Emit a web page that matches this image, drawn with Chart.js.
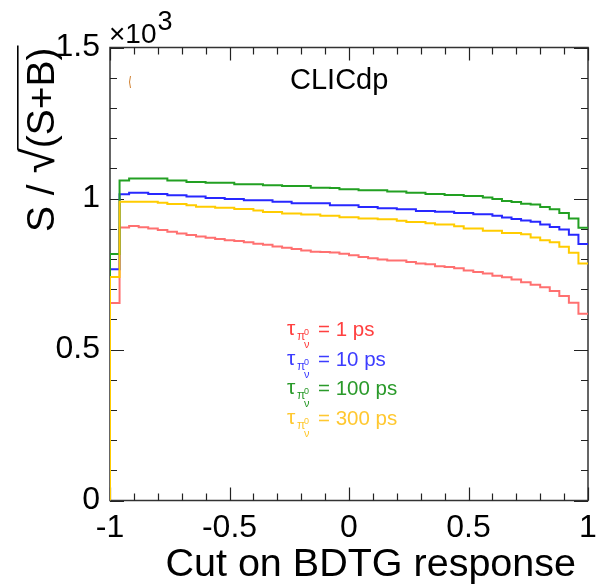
<!DOCTYPE html>
<html><head><meta charset="utf-8">
<script src="https://cdn.jsdelivr.net/npm/chart.js@4.4.1/dist/chart.umd.min.js"></script>
<style>html,body{margin:0;padding:0;background:#fff;}#wrap{width:598px;height:588px;}</style>
</head><body><div id="wrap"><canvas id="c" width="598" height="588"></canvas></div>
<script>
// ---- data ----
const binEdges = [-1,-0.96,-0.92,-0.88,-0.84,-0.8,-0.76,-0.72,-0.68,-0.64,-0.6,-0.56,-0.52,-0.48,-0.44,-0.4,-0.36,-0.32,-0.28,-0.24,-0.2,-0.16,-0.12,-0.08,-0.04,0,0.04,0.08,0.12,0.16,0.2,0.24,0.28,0.32,0.36,0.4,0.44,0.48,0.52,0.56,0.6,0.64,0.68,0.72,0.76,0.8,0.84,0.88,0.92,0.96,1];
const seriesLabels = ['1 ps','10 ps','100 ps','300 ps'];
const sig1ps   = [654,904,909,905,901,896,890,884,879,874,870,866,862,859,855,850,847,841,837,833,828,824,823,821,817,812,806,802,798,795,795,790,785,782,776,773,769,762,757,752,744,739,732,723,714,706,694,677,655,618];
const sig10ps  = [766,1014,1019,1019,1015,1015,1011,1011,1007,1007,1002,1002,998,998,994,994,994,989,989,984,984,984,984,978,978,978,972,972,968,968,964,964,959,959,956,956,952,952,948,948,943,937,932,927,923,914,906,897,880,849];
const sig100ps = [816,1060,1066,1066,1066,1066,1060,1060,1055,1055,1052,1052,1052,1047,1047,1047,1044,1044,1041,1041,1041,1036,1036,1035,1031,1031,1027,1027,1027,1023,1023,1019,1019,1015,1015,1012,1012,1008,1008,1003,998,992,988,983,980,972,964,952,934,903];
const sig300ps = [740,989,989,989,989,986,982,982,978,973,973,969,969,965,965,960,955,955,950,950,947,947,943,943,938,938,934,934,931,931,926,922,922,918,914,914,908,901,901,893,893,886,886,882,871,862,855,840,820,785];
const yTicks = [0,500,1000,1500];
const xTicks = [-1,-0.5,0,0.5,1];

const lineColors = ['#ff7070','#2828ff','#22a022','#ffcc00'];
const textColors = ['#ff4040','#3c3cff','#2a9a2a','#ffc830'];
const FONT = '"Liberation Sans", Arial, sans-serif';

function histPoints(vals){
  const n = vals.length;
  const pts = [{x: binEdges[0], y: 0}];
  vals.forEach((v,i)=>pts.push({x: binEdges[i], y: v}));
  pts.push({x: binEdges[n], y: vals[n-1]});
  return pts;
}
const allSeries = [sig1ps, sig10ps, sig100ps, sig300ps];
const datasets = allSeries.map((s,i)=>({
  label: seriesLabels[i],
  data: histPoints(s),
  borderColor: lineColors[i],
  borderWidth: 2,
  pointRadius: 0,
  stepped: 'before',
  fill: false,
  order: 3 - i
}));

const decor = {
  id: 'decor',
  beforeDatasetsDraw(chart){
    const {ctx, chartArea: a, scales: {x, y}} = chart;
    ctx.save();
    ctx.strokeStyle = '#333'; ctx.lineWidth = 1.5;
    ctx.strokeRect(a.left, a.top, a.right - a.left, a.bottom - a.top);
    ctx.lineWidth = 1.2; ctx.strokeStyle = '#222';
    ctx.beginPath();
    for (let k = -10; k <= 10; k++) {
      const px = Math.round(x.getPixelForValue(k/10)) + 0.5;
      const len = (k % 5 === 0) ? 13 : 7;
      ctx.moveTo(px, a.bottom); ctx.lineTo(px, a.bottom - len);
      ctx.moveTo(px, a.top); ctx.lineTo(px, a.top + len);
    }
    for (let k = 0; k <= 15; k++) {
      const py = Math.round(y.getPixelForValue(k*100)) + 0.5;
      const len = (k % 5 === 0) ? 14 : 7;
      ctx.moveTo(a.left, py); ctx.lineTo(a.left + len, py);
      ctx.moveTo(a.right, py); ctx.lineTo(a.right - len, py);
    }
    ctx.stroke();
    ctx.restore();
  },
  afterDraw(chart){
    const {ctx} = chart;
    ctx.save();
    ctx.fillStyle = '#000';
    ctx.textBaseline = 'alphabetic';
    // x title
    ctx.font = '39.5px ' + FONT; ctx.textAlign = 'right';
    ctx.fillText('Cut on BDTG response', 576, 576);
    // y title (rotated), with radical drawn taller like ROOT's #sqrt
    ctx.save();
    ctx.translate(54, 232); ctx.rotate(-Math.PI/2);
    ctx.textAlign = 'left';
    ctx.font = '39px ' + FONT;
    const pre = 'S / ', inner = '(S+B)';
    ctx.fillText(pre, 0, 0);
    const wPre = ctx.measureText(pre).width;
    const wInner = ctx.measureText(inner).width;
    ctx.font = '46px ' + FONT;
    ctx.fillText('\u221A', wPre, 0);
    const mr = ctx.measureText('\u221A');
    const wRad = mr.width;
    const top = mr.actualBoundingBoxAscent;
    ctx.font = '39px ' + FONT;
    ctx.fillText(inner, wPre + wRad, 0);
    ctx.strokeStyle = '#000'; ctx.lineWidth = 1.6;
    ctx.beginPath();
    ctx.moveTo(wPre + wRad - 1.5, -top + 0.8);
    ctx.lineTo(wPre + wRad + wInner + 2, -top + 0.8);
    ctx.stroke();
    ctx.restore();
    // x10^3
    ctx.textAlign = 'left';
    ctx.font = '28px ' + FONT;
    ctx.fillText('\u00D710', 109, 43);
    const w10 = ctx.measureText('\u00D710').width;
    ctx.font = '27px ' + FONT;
    ctx.fillText('3', 109 + w10 + 1, 30);
    // CLICdp
    ctx.font = '29px ' + FONT;
    ctx.fillText('CLICdp', 290, 89);
    // tiny orange mark
    ctx.strokeStyle = '#d08030'; ctx.lineWidth = 1;
    ctx.beginPath(); ctx.moveTo(130.5, 76); ctx.quadraticCurveTo(128.5, 82, 130.5, 88); ctx.stroke();
    // legend
    seriesLabels.forEach((lab, i) => {
      const base = 336 + i * 29.7;
      ctx.fillStyle = textColors[i];
      ctx.font = '21px ' + FONT;
      ctx.fillText('\u03C4', 287, base - 1);
      ctx.font = '12px ' + FONT;
      ctx.fillText('\u03C0', 297, base + 4);
      ctx.font = '11px ' + FONT;
      ctx.fillText('\u03BD', 304, base + 12);
      ctx.font = '9px ' + FONT;
      ctx.fillText('0', 304, base - 1);
      ctx.font = '20.5px ' + FONT;
      ctx.fillText('= ' + lab, 318, base);
    });
    ctx.restore();
  }
};

new Chart(document.getElementById('c'), {
  type: 'line',
  data: { datasets },
  options: {
    responsive: false,
    animation: false,
    devicePixelRatio: 1,
    layout: { padding: { top: 47.5, right: 10, left: 0, bottom: 0 } },
    plugins: { legend: { display: false }, tooltip: { enabled: false }, title: { display: false } },
    scales: {
      x: {
        type: 'linear', min: -1, max: 1,
        afterFit: s => { s.height = 87.5; s.paddingLeft = 0; s.paddingRight = 0; },
        afterBuildTicks: s => { s.ticks = xTicks.map(v => ({value: v})); },
        grid: { display: false, drawTicks: false },
        border: { display: false },
        ticks: { color: '#000', font: { size: 32, family: FONT }, padding: 8, maxRotation: 0, autoSkip: false,
                 callback: v => String(v) }
      },
      y: {
        type: 'linear', min: 0, max: 1500,
        afterFit: s => { s.width = 110; s.paddingTop = 0; s.paddingBottom = 0; },
        afterBuildTicks: s => { s.ticks = yTicks.map(v => ({value: v})); },
        grid: { display: false, drawTicks: false },
        border: { display: false },
        ticks: { color: '#000', font: { size: 32, family: FONT }, padding: 10,
                 callback: v => String(v / 1000) }
      }
    }
  },
  plugins: [decor]
});
</script>
</body></html>
